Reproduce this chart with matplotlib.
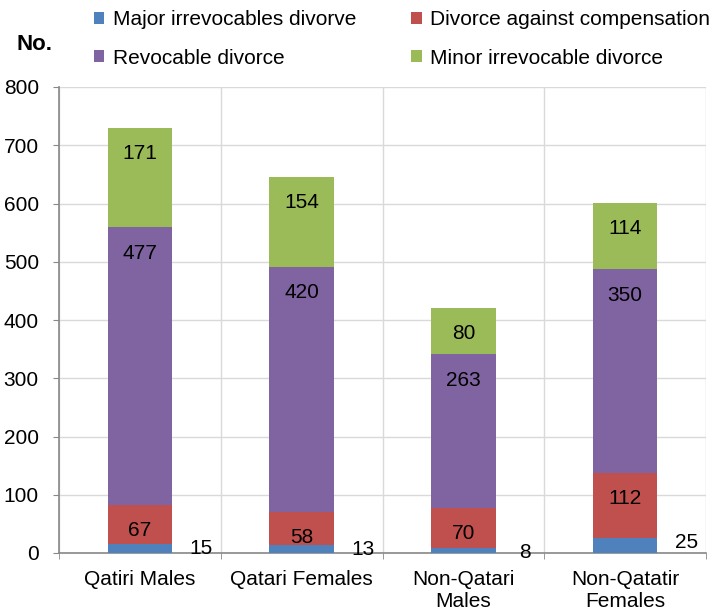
import numpy as np
import matplotlib.pyplot as plt

plt.rcParams['font.family'] = ['Liberation Sans', 'DejaVu Sans']

# data
categories = ['Qatiri Males', 'Qatari Females', 'Non-Qatari\nMales', 'Non-Qatatir\nFemales']
major = [15, 13, 8, 25]
compensation = [67, 58, 70, 112]
revocable = [477, 420, 263, 350]
minor = [171, 154, 80, 114]

series = [
    ('Major irrevocables divorve', major, '#4F81BD'),
    ('Divorce against compensation', compensation, '#C0504D'),
    ('Revocable divorce', revocable, '#8064A2'),
    ('Minor irrevocable divorce', minor, '#9BBB59'),
]

fig = plt.figure(figsize=(7.19, 6.11), dpi=100)
ax = fig.add_axes([59 / 719, 1 - 553 / 611, (706 - 59) / 719, (553 - 87) / 611])

x = np.arange(len(categories))
width = 0.4
bottom = np.zeros(len(categories))
handles = {}
for name, vals, color in series:
    vals = np.array(vals)
    b = ax.bar(x, vals, width, bottom=bottom, color=color, label=name, zorder=3)
    handles[name] = b
    for xi, v, bt in zip(x, vals, bottom):
        if name.startswith('Major'):
            # too small to hold the label, put it beside the bar
            ax.annotate(str(v), (xi + 0.38, bt + v), xytext=(0, -3), textcoords='offset points',
                        ha='center', va='center', fontsize=15, zorder=4)
        else:
            # "inside end" labels
            ax.annotate(str(v), (xi, bt + v), xytext=(0, -18.5), textcoords='offset points',
                        ha='center', va='center', fontsize=15, zorder=4)
    bottom = bottom + vals

ax.set_xlim(-0.5, 3.5)
ax.set_ylim(0, 800)
ax.set_yticks(np.arange(0, 801, 100))
ax.set_xticks(x)
ax.set_xticklabels(categories, fontsize=15)
ax.set_xticks(np.arange(-0.5, 3.6, 1), minor=True)
ax.tick_params(axis='x', which='major', length=0, pad=12)
ax.tick_params(axis='x', which='minor', length=4.5, color='#888888')
ax.tick_params(axis='y', labelsize=15, length=4.5, color='#888888', pad=10)

ax.grid(axis='y', color='#d9d9d9', linewidth=1, zorder=0)
ax.grid(axis='x', which='minor', color='#d9d9d9', linewidth=1, zorder=0)
for s in ['top', 'right']:
    ax.spines[s].set_visible(False)
for s in ['left', 'bottom']:
    ax.spines[s].set_color('#888888')
    ax.spines[s].set_linewidth(1.2)

fig.text(34 / 719, 1 - 44 / 611, 'No.', fontsize=16, fontweight='bold', ha='center', va='center')

# row-wise order like the original legend
order = ['Major irrevocables divorve', 'Revocable divorce',
         'Divorce against compensation', 'Minor irrevocable divorce']
fig.legend(handles=[handles[n] for n in order], labels=order, loc='upper left',
           bbox_to_anchor=(94 / 719, 1 - 10 / 611),
           ncol=2, frameon=False, fontsize=15, handlelength=0.5, handleheight=0.5,
           handletextpad=0.4, columnspacing=2.65, labelspacing=0.95, borderpad=0,
           borderaxespad=0)

fig.savefig('out.png', dpi=100)
